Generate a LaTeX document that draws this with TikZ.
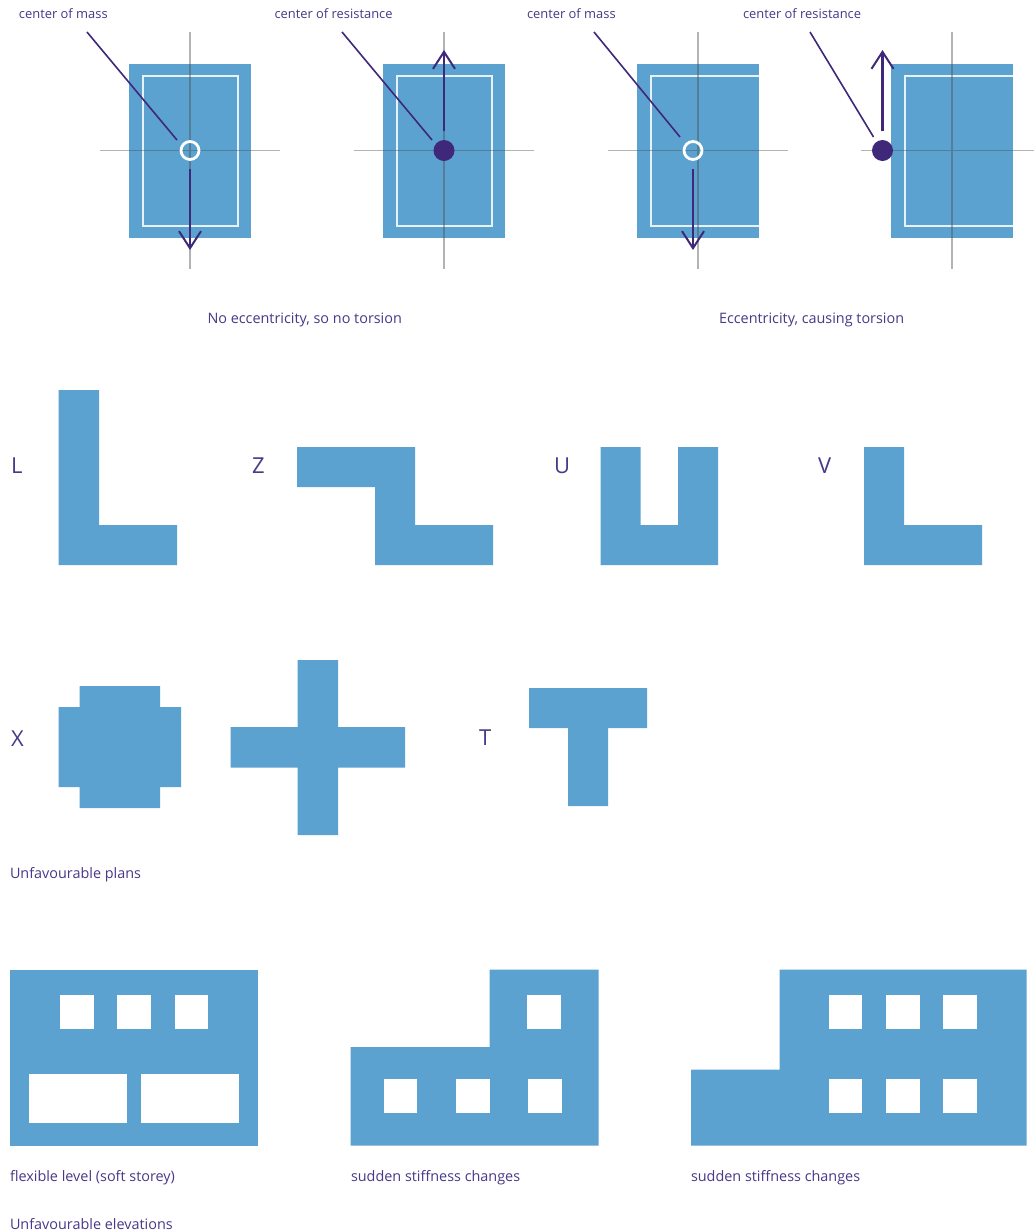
\documentclass[tikz,border=0pt]{standalone}
\usepackage{fontspec}
\setmainfont{Open Sans}
\usetikzlibrary{arrows.meta}
\definecolor{wall}{HTML}{5BA2D0}
\definecolor{ink}{HTML}{3F2879}
\definecolor{txt}{HTML}{4A3888}
\tikzset{
  x=1pt,y=-1pt,
  mass/.style={fill=wall,draw=none},
  hole/.style={fill=white,draw=none},
  inner/.style={draw=white!85!wall,line width=2pt},
  axis/.style={draw=black!70,opacity=.42,line width=1.6pt},
  leader/.style={draw=ink,line width=1.6pt},
  force/.style={draw=ink,line width=2.4pt,-{Straight Barb[length=17pt,width=22pt,line width=2pt]}},
  lbl/.style={anchor=base west,inner sep=0pt,outer sep=0pt,text=txt,font=\fontsize{14.4}{16}\selectfont},
  toplbl/.style={lbl,font=\fontsize{12.9}{15}\selectfont},
  letter/.style={anchor=base west,inner sep=0pt,outer sep=0pt,text=txt,font=\fontsize{22}{24}\selectfont},
  massdot/.style={circle,draw=white,line width=2.8pt,minimum size=18pt,inner sep=0pt,fill=none},
  resdot/.style={circle,fill=ink,minimum size=21pt,inner sep=0pt,draw=none},
}
\begin{document}
\begin{tikzpicture}
\useasboundingbox (0,0) rectangle (1034,1232);
\fill[white] (0,0) rectangle (1034,1232);
% eccentricity panels
\fill[mass] (129,63.5) rectangle (250.5,238);
\draw[inner] (142.5,75.5) rectangle (237.5,226);
\fill[mass] (383,63.5) rectangle (504.5,238);
\draw[inner] (396.5,75.5) rectangle (491.5,226);
\fill[mass] (637,63.5) rectangle (759,238);
\draw[inner] (759,75.5) -- (650.5,75.5) -- (650.5,226) -- (759,226);
\fill[mass] (891,63.5) rectangle (1013,238);
\draw[inner] (1013,75.5) -- (904.5,75.5) -- (904.5,226) -- (1013,226);
% axes
\draw[axis] (190,32) -- (190,269) (100,150.5) -- (280,150.5);
\draw[axis] (444,32) -- (444,269) (354,150.5) -- (534,150.5);
\draw[axis] (698,32) -- (698,269) (608,150.5) -- (788,150.5);
\draw[axis] (952,32) -- (952,269) (861,150.5) -- (1034,150.5);
% markers
\node[massdot] (m1) at (190,150.5) {};
\node[resdot] (r1) at (444,150.5) {};
\node[massdot] (m2) at (693,150.5) {};
\node[resdot] (r2) at (882.5,150.5) {};
% labels
\node[toplbl] (t1) at (19,18) {center of mass};
\node[toplbl] (t2) at (274.5,18) {center of resistance};
\node[toplbl] (t3) at (527,18) {center of mass};
\node[toplbl] (t4) at (743,18) {center of resistance};
\node[lbl] (t5) at (207.5,323) {No eccentricity, so no torsion};
\node[lbl] (t6) at (719,323) {Eccentricity, causing torsion};
% leaders
\coordinate (a1) at (87,32); \coordinate (b1) at (177,140);
\coordinate (a2) at (342,32); \coordinate (b2) at (432,140);
\coordinate (a3) at (594,32); \coordinate (b3) at (680,137);
\coordinate (a4) at (810,32); \coordinate (b4) at (873.5,137);
\draw[leader] (a1) -- (b1);
\draw[leader] (a2) -- (b2);
\draw[leader] (a3) -- (b3);
\draw[leader] (a4) -- (b4);
% forces
\coordinate (f1) at (190,169); \coordinate (g1) at (190,250);
\coordinate (f2) at (444,131); \coordinate (g2) at (444,50);
\coordinate (f3) at (693,169); \coordinate (g3) at (693,250);
\coordinate (f4) at (882.5,131); \coordinate (g4) at (882.5,50);
\draw[force] (f1) -- (g1);
\draw[force] (f2) -- (g2);
\draw[force] (f3) -- (g3);
\draw[force] (f4) -- (g4);
% plans
\node[letter] (pL) at (11,473) {L};
\fill[mass] (58.5,390) -- (99,390) -- (99,525) -- (177,525) -- (177,565) -- (58.5,565) -- cycle;
\node[letter] (pZ) at (252,473) {Z};
\fill[mass] (297,447) -- (415,447) -- (415,525) -- (493,525) -- (493,565) -- (375,565) -- (375,487) -- (297,487) -- cycle;
\node[letter] (pU) at (554,473) {U};
\fill[mass] (600.5,447) -- (640.5,447) -- (640.5,525) -- (678,525) -- (678,447) -- (718,447) -- (718,565) -- (600.5,565) -- cycle;
\node[letter] (pV) at (818,473) {V};
\fill[mass] (864,447) -- (904,447) -- (904,525) -- (982,525) -- (982,565) -- (864,565) -- cycle;
\node[letter] (pX) at (11,746) {X};
\fill[mass] (79.5,686) -- (160,686) -- (160,707) -- (181,707) -- (181,787) -- (160,787) -- (160,808) -- (79.5,808) -- (79.5,787) -- (58.5,787) -- (58.5,707) -- (79.5,707) -- cycle;
\fill[mass] (297.5,660) -- (338,660) -- (338,727) -- (405,727) -- (405,767.5) -- (338,767.5) -- (338,835) -- (297.5,835) -- (297.5,767.5) -- (230.5,767.5) -- (230.5,727) -- (297.5,727) -- cycle;
\node[letter] (pT) at (479,745) {T};
\fill[mass] (529,688) -- (647,688) -- (647,728) -- (608,728) -- (608,806) -- (568,806) -- (568,728) -- (529,728) -- cycle;
\node[lbl] (t7) at (10,878) {Unfavourable plans};
% elevations
\fill[mass] (10,969.5) rectangle (257.5,1145.5);
\foreach \x in {60,117,174.5}{\fill[hole] (\x,995) rectangle ++(33.5,33.5);}
\fill[hole] (28.5,1073.5) rectangle (126.5,1122.5);
\fill[hole] (141,1073.5) rectangle (239,1122.5);
\fill[mass] (350.5,1047) -- (489.5,1047) -- (489.5,969.5) -- (598.5,969.5) -- (598.5,1145.5) -- (350.5,1145.5) -- cycle;
\fill[hole] (527,995) rectangle ++(33.5,33.5);
\foreach \x in {383.5,456,528}{\fill[hole] (\x,1079) rectangle ++(33.5,33.5);}
\fill[mass] (691,1069.5) -- (779.5,1069.5) -- (779.5,969.5) -- (1026.5,969.5) -- (1026.5,1145.5) -- (691,1145.5) -- cycle;
\foreach \x in {828.5,886,943}{
  \fill[hole] (\x,995) rectangle ++(33.5,33.5);
  \fill[hole] (\x,1079) rectangle ++(33.5,33.5);
}
\node[lbl] (t8) at (10,1181) {flexible level (soft storey)};
\node[lbl] (t9) at (351,1181) {sudden stiffness changes};
\node[lbl] (t10) at (691,1181) {sudden stiffness changes};
\node[lbl] (t11) at (10,1229) {Unfavourable elevations};
\end{tikzpicture}
\end{document}
